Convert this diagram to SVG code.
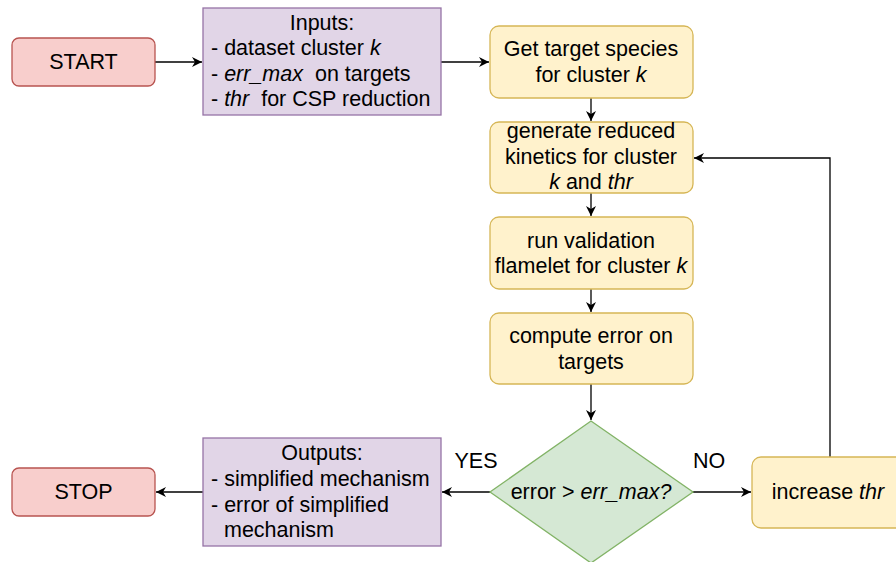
<svg xmlns="http://www.w3.org/2000/svg" width="896" height="562" viewBox="0 0 896 562">
<style>
text{font-family:"Liberation Sans",Arial,sans-serif;font-size:21.5px;fill:#000;white-space:pre}
.c{text-anchor:middle}
.i{font-style:italic}
.red{fill:#f8cecc;stroke:#b85450;stroke-width:1.3}
.pur{fill:#e1d5e7;stroke:#9673a6;stroke-width:1.3}
.yel{fill:#fff2cc;stroke:#d6b656;stroke-width:1.3}
.grn{fill:#d5e8d4;stroke:#82b366;stroke-width:1.3}
.e{fill:none;stroke:#000;stroke-width:1.3}
</style>
<defs>
<marker id="a" markerUnits="userSpaceOnUse" markerWidth="12" markerHeight="10" refX="10" refY="5" orient="auto">
<path d="M0,0 L10,5 L0,10 L3,5 Z" fill="#000"/>
</marker>
</defs>
<rect width="896" height="562" fill="#fff"/>
<g id="edges">
<path class="e" d="M155,62 H202" marker-end="url(#a)"/>
<path class="e" d="M441,62 H489" marker-end="url(#a)"/>
<path class="e" d="M591,98 V121" marker-end="url(#a)"/>
<path class="e" d="M591,193 V216" marker-end="url(#a)"/>
<path class="e" d="M591,289 V312" marker-end="url(#a)"/>
<path class="e" d="M591,384 V420" marker-end="url(#a)"/>
<path class="e" d="M490,492 H442" marker-end="url(#a)"/>
<path class="e" d="M203,492 H156" marker-end="url(#a)"/>
<path class="e" d="M693,492 H751" marker-end="url(#a)"/>
<path class="e" d="M830,457 V158 H694" marker-end="url(#a)"/>
<text x="476" y="468" class="c">YES</text>
<text x="709" y="468" class="c">NO</text>
</g>
<g id="start">
<rect class="red" x="12" y="38" width="143" height="48" rx="7"/>
<text x="83.5" y="69" class="c">START</text>
</g>
<g id="inputs">
<rect class="pur" x="203" y="8" width="238" height="107"/>
<text x="322" y="30" class="c">Inputs:</text>
<text x="211" y="55">- dataset cluster <tspan class="i">k</tspan></text>
<text x="211" y="81">- <tspan class="i">err_max</tspan>  on targets</text>
<text x="211" y="106">- <tspan class="i">thr</tspan>  for CSP reduction</text>
</g>
<g id="target">
<rect class="yel" x="490" y="26" width="203" height="72" rx="9"/>
<text x="591" y="56" class="c">Get target species</text>
<text x="591" y="82" class="c">for cluster <tspan class="i">k</tspan></text>
</g>
<g id="generate">
<rect class="yel" x="490" y="122" width="203" height="71" rx="9"/>
<text x="591" y="138" class="c">generate reduced</text>
<text x="591" y="164" class="c">kinetics for cluster</text>
<text x="591" y="189" class="c"><tspan class="i">k</tspan> and <tspan class="i">thr</tspan></text>
</g>
<g id="validation">
<rect class="yel" x="490" y="217" width="203" height="72" rx="9"/>
<text x="591" y="248" class="c">run validation</text>
<text x="591" y="273" class="c">flamelet for cluster <tspan class="i">k</tspan></text>
</g>
<g id="compute">
<rect class="yel" x="490" y="313" width="203" height="71" rx="9"/>
<text x="591" y="343" class="c">compute error on</text>
<text x="591" y="369" class="c">targets</text>
</g>
<g id="decision">
<polygon class="grn" points="591,421 693,492 591,563 490,492"/>
<text x="591" y="499" class="c">error &gt; <tspan class="i">err_max?</tspan></text>
</g>
<g id="increase">
<rect class="yel" x="752" y="457" width="156" height="71" rx="9"/>
<text x="828" y="499" class="c">increase <tspan class="i">thr</tspan></text>
</g>
<g id="outputs">
<rect class="pur" x="203" y="438" width="238" height="108"/>
<text x="322" y="460" class="c">Outputs:</text>
<text x="211" y="486">- simplified mechanism</text>
<text x="211" y="512">- error of simplified</text>
<text x="224" y="537">mechanism</text>
</g>
<g id="stop">
<rect class="red" x="12" y="468" width="143" height="48" rx="7"/>
<text x="83.5" y="499" class="c">STOP</text>
</g>
</svg>
